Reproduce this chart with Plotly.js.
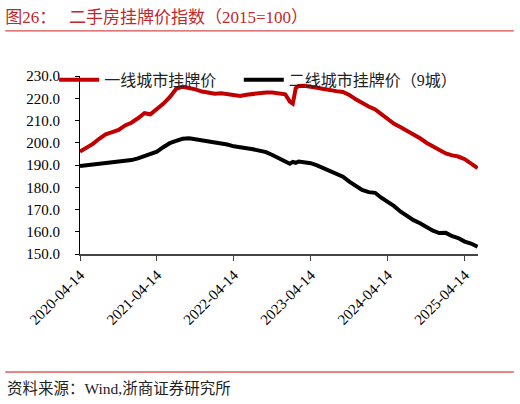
<!DOCTYPE html>
<html>
<head>
<meta charset="utf-8">
<script src="https://cdn.plot.ly/plotly-3.0.1.min.js"></script>
<style>
  html, body { margin: 0; padding: 0; background: #fff; }
  #chart { width: 520px; height: 404px; }
</style>
</head>
<body>
<div id="chart"></div>
<script>
// monthly readings, plus a few extra points around the Jan-2023 dip
const dates = [
  "2020-04-14","2020-05-14","2020-06-14","2020-07-14","2020-08-14","2020-09-14","2020-10-14","2020-11-14","2020-12-14",
  "2021-01-14","2021-02-14","2021-03-14","2021-04-14","2021-05-14","2021-06-14","2021-07-14","2021-08-14","2021-09-14",
  "2021-10-14","2021-11-14","2021-12-14","2022-01-14","2022-02-14","2022-03-14","2022-04-14","2022-05-14","2022-06-14",
  "2022-07-14","2022-08-14","2022-09-14","2022-10-14","2022-11-14","2022-12-14",
  "2023-01-05","2023-01-19","2023-02-02","2023-02-16",
  "2023-03-14","2023-04-14","2023-05-14","2023-06-14","2023-07-14","2023-08-14","2023-09-14","2023-10-14","2023-11-14",
  "2023-12-14","2024-01-14","2024-02-14","2024-03-14","2024-04-14","2024-05-14","2024-06-14","2024-07-14","2024-08-14",
  "2024-09-14","2024-10-14","2024-11-14","2024-12-14","2025-01-14","2025-02-14","2025-03-14","2025-04-14","2025-05-14",
  "2025-06-14"
];

const tier1 = [
  196.0,197.5,199.5,201.8,203.8,204.8,205.8,207.8,209.0,
  211.0,213.3,212.8,215.0,217.5,220.5,224.2,225.2,224.8,
  224.0,223.0,222.3,222.0,222.2,221.8,221.5,221.0,221.6,
  222.0,222.3,222.6,222.6,222.4,221.8,
  218.5,217.6,224.5,225.5,
  225.6,225.3,224.7,224.2,223.5,223.2,222.8,221.5,219.5,
  217.8,216.3,215.0,213.0,210.5,208.5,207.0,205.5,203.8,
  202.0,200.0,198.3,196.8,195.2,194.3,193.8,192.6,190.8,
  188.6
];

const tier2 = [
  189.6,189.9,190.3,190.8,191.1,191.3,191.5,191.7,192.2,
  193.0,194.0,194.7,196.0,198.0,199.8,200.8,201.8,202.0,
  201.6,201.0,200.6,200.3,200.0,199.2,198.4,197.8,197.5,
  197.1,196.5,195.8,194.5,193.2,191.8,
  190.6,191.4,191.0,191.6,
  191.2,190.8,189.8,188.5,187.2,186.0,184.7,182.5,180.5,
  178.8,177.8,177.5,175.3,173.6,171.5,169.0,167.0,165.2,
  163.8,162.0,160.5,159.4,159.5,158.0,157.2,155.6,154.7,
  153.3
];

const tickDates = ["2020-04-14","2021-04-14","2022-04-14","2023-04-14","2024-04-14","2025-04-14"];

const FONT = "Liberation Serif, 'Noto Sans CJK SC', serif";
const RED = "#C00000";

const traces = [
  {
    x: dates, y: tier1, name: "一线城市挂牌价",
    type: "scatter", mode: "lines", legend: "legend",
    line: { color: RED, width: 4 }
  },
  {
    x: dates, y: tier2, name: "二线城市挂牌价（9城）",
    type: "scatter", mode: "lines", legend: "legend2",
    line: { color: "#000000", width: 4 }
  }
];

const legendBase = {
  orientation: "h", xanchor: "left", y: 0.978, yanchor: "middle",
  bgcolor: "rgba(0,0,0,0)", font: { family: FONT, size: 16, color: "#222" },
  itemwidth: 40
};

const layout = {
  width: 520, height: 404, autosize: false,
  margin: { l: 80, r: 42, t: 76, b: 150 },
  paper_bgcolor: "#fff", plot_bgcolor: "#fff",
  font: { family: FONT, size: 15, color: "#000" },
  title: {
    text: "图26：   二手房挂牌价指数（2015=100）",
    font: { family: FONT, size: 17, color: "#C0282D" },
    x: 0.01, xanchor: "left", y: 0.958, yanchor: "middle"
  },
  showlegend: true,
  legend: Object.assign({}, legendBase, { x: -0.065 }),
  legend2: Object.assign({}, legendBase, { x: 0.399 }),
  xaxis: {
    type: "date",
    range: ["2020-04-14", "2025-06-16"],
    tickvals: tickDates, ticktext: tickDates,
    tickangle: -45,
    ticks: "outside", ticklen: 5, tickcolor: "#444",
    showline: true, linecolor: "#444", linewidth: 1.5,
    showgrid: false, zeroline: false,
    tickfont: { family: FONT, size: 15 }
  },
  yaxis: {
    range: [150, 230], dtick: 10, tick0: 150, tickformat: ".1f",
    ticks: "outside", ticklen: 4, tickcolor: "#000",
    showline: true, linecolor: "#000", linewidth: 1,
    showgrid: false, zeroline: false,
    ticklabelstandoff: 12,
    tickfont: { family: FONT, size: 15 }
  },
  shapes: [
    { type: "line", xref: "paper", yref: "paper", x0: -0.188, x1: 1.09, y0: 1.253, y1: 1.253,
      line: { color: "#D94A4A", width: 1.2 } },
    { type: "line", xref: "paper", yref: "paper", x0: -0.188, x1: 1.09, y0: -0.663, y1: -0.663,
      line: { color: "#E05A5A", width: 1.5 } }
  ],
  annotations: [
    { text: "资料来源：Wind,浙商证券研究所", xref: "paper", yref: "paper",
      x: -0.188, y: -0.758, xanchor: "left", yanchor: "middle", showarrow: false,
      font: { family: FONT, size: 15.5, color: "#222" } }
  ]
};

Plotly.newPlot("chart", traces, layout, { displayModeBar: false, staticPlot: true });
</script>
</body>
</html>
